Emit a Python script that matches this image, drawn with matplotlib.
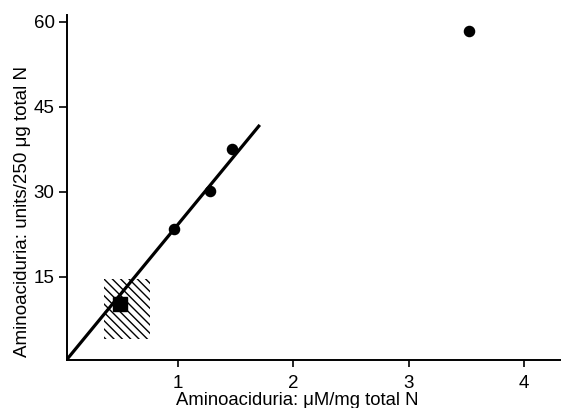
import matplotlib
matplotlib.use('Agg')
import matplotlib.pyplot as plt
import numpy as np

plt.rcParams['font.family'] = ['Liberation Sans', 'DejaVu Sans']
plt.rcParams['hatch.linewidth'] = 1.0

# Data
vCircX = [0.965, 1.28, 1.47, 3.52]      # circles
vCircY = [23.5, 30.2, 37.6, 58.4]
vSqX = [0.50]                           # square (mean of shaded region)
vSqY = [10.2]
vLineX = [0.04, 1.71]                   # regression line
vLineY = [0.4, 41.8]
vBoxX = [0.36, 0.76]                    # hatched range
vBoxY = [3.9, 14.6]

vXTicks = [1, 2, 3, 4]
vYTicks = [15, 30, 45, 60]

hFig = plt.figure(figsize=(5.61, 4.08), dpi=100)
hAx = hFig.add_axes([0.1195, 0.118, 0.8805, 0.845])

# hatched box
hAx.fill_between(vBoxX, vBoxY[0], vBoxY[1], facecolor='none', edgecolor='k',
                 hatch='\\\\\\\\', linewidth=0)

hAx.plot(vLineX, vLineY, 'k-', linewidth=2.3, solid_capstyle='butt')
hAx.plot(vCircX, vCircY, 'ko', markersize=7.3)
hAx.plot(vSqX, vSqY, 'ks', markersize=9.5)

hAx.set_xlim(0.04, 4.32)
hAx.set_ylim(0.3, 61.2)
hAx.set_xticks(vXTicks)
hAx.set_yticks(vYTicks)
hAx.set_xticklabels([str(t) for t in vXTicks])
hAx.set_yticklabels([str(t) for t in vYTicks])

for side in ['top', 'right']:
    hAx.spines[side].set_visible(False)
for side in ['left', 'bottom']:
    hAx.spines[side].set_linewidth(1.4)

hAx.tick_params(axis='y', direction='out', length=6, width=1.2, pad=3, labelsize=13.5)
hAx.tick_params(axis='x', direction='out', length=5, width=1.2, pad=6, labelsize=13.5)

hAx.set_xlabel('Aminoaciduria: \u03bcM/mg total N', fontsize=13.3)
hAx.xaxis.set_label_coords(0.466, -0.118)
hAx.xaxis.label.set_va('center')
hAx.set_ylabel('Aminoaciduria: units/250 \u03bcg total N', fontsize=13.5)
hAx.yaxis.set_label_coords(-0.091, 0.43)
hAx.yaxis.label.set_va('center')

hFig.savefig('out.png', dpi=100)
